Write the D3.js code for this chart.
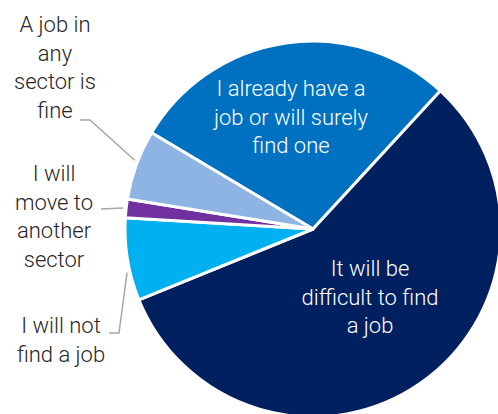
<!DOCTYPE html>
<html>
<head>
<meta charset="utf-8">
<script src="https://cdn.jsdelivr.net/npm/d3@7"></script>
<style>
  html, body { margin: 0; padding: 0; background: #fff; }
  svg { display: block; font-family: Roboto, "Open Sans", sans-serif; font-weight: 300; }
</style>
</head>
<body>
<svg id="chart" width="498" height="414"></svg>
<script>
// Survey answers, clockwise from the upper-left
const categories = [
  "I already have a job or will surely find one",
  "It will be difficult to find a job",
  "I will not find a job",
  "I will move to another sector",
  "A job in any sector is fine"
];
const shares = [28.3, 57.0, 7.1, 1.6, 6.0];
const colors = ["#0070c0", "#002060", "#00b0f0", "#7030a0", "#8eb4e3"];

// Wrapped label lines per category
const labelLines = [
  ["I already have a", "job or will surely", "find one"],
  ["It will be", "difficult to find", "a job"],
  ["I will not", "find a job"],
  ["I will", "move to", "another", "sector"],
  ["A job in", "any", "sector is", "fine"]
];

const svg = d3.select("#chart");
const cx = 313, cy = 229, r = 188;
const deg = Math.PI / 180;

const pie = d3.pie().sort(null).value(d => d)
  .startAngle(-59.2 * deg).endAngle(300.8 * deg);
const arcs = pie(shares);
const arc = d3.arc().innerRadius(0).outerRadius(r);

const g = svg.append("g").attr("transform", `translate(${cx},${cy})`);
g.selectAll("path").data(arcs).join("path")
  .attr("d", arc)
  .attr("fill", (d, i) => colors[i])
  .attr("stroke", "#fff")
  .attr("stroke-width", 3)
  .attr("stroke-linejoin", "round");

const fontSize = 22, lineH = 28.7;

// Text block helper: centred lines, first baseline at y0
function block(x, y0, lines, fill) {
  const t = svg.append("text")
    .attr("text-anchor", "middle")
    .attr("font-size", fontSize)
    .attr("fill", fill);
  lines.forEach((s, k) => {
    t.append("tspan").attr("x", x).attr("y", y0 + k * lineH).text(s);
  });
}

// Labels inside the two large slices
block(291, 96, labelLines[0], "#ffffff");
block(370, 276, labelLines[1], "#ffffff");

// Outside labels for the small slices
block(61, 333, labelLines[2], "#262626");
block(54, 181, labelLines[3], "#262626");
block(55, 32, labelLines[4], "#262626");

// Leader lines from outside labels to their slices
function edgePoint(i, frac, rr) {
  const a = arcs[i].startAngle + (arcs[i].endAngle - arcs[i].startAngle) * frac;
  return [cx + rr * Math.sin(a), cy - rr * Math.cos(a)];
}
const leader = svg.append("g")
  .attr("fill", "none")
  .attr("stroke", "#a6a6a6")
  .attr("stroke-width", 1.5);

const pAny = edgePoint(4, 0.55, r + 3);
leader.append("polyline")
  .attr("points", [[80, 120], [90, 120], pAny].map(p => p.join(",")).join(" "));

const pMove = edgePoint(3, 0.5, r + 3);
leader.append("polyline")
  .attr("points", [[101, 209], pMove].map(p => p.join(",")).join(" "));

const pNot = edgePoint(2, 0.35, r + 3);
leader.append("polyline")
  .attr("points", [[109, 333], [119, 333], pNot].map(p => p.join(",")).join(" "));
</script>
</body>
</html>
